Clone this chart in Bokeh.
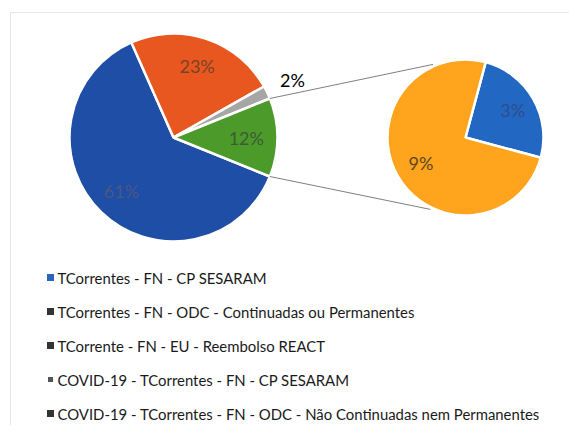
import numpy as np
from bokeh.plotting import figure
from bokeh.models import Range1d
from bokeh.core.properties import value
from bokeh.embed import file_html
from bokeh.resources import INLINE

# ---- data ----
main_labels = ["TCorrentes - FN - CP SESARAM",
               "TCorrentes - FN - ODC - Continuadas ou Permanentes",
               "TCorrente - FN - EU - Reembolso REACT",
               "Outros"]
main_values = [61, 23, 2, 12]
main_colors = ["#1f4ea6", "#e8571f", "#a6a6a6", "#4c9a2a"]
main_text_colors = ["#4a5884", "#7a4226", "#000000", "#3c5a36"]

sec_labels = ["COVID-19 - TCorrentes - FN - CP SESARAM",
              "COVID-19 - TCorrentes - FN - ODC - Não Continuadas nem Permanentes"]
sec_values = [3, 9]
sec_colors = ["#2268c2", "#ffa41c"]
sec_text_colors = ["#2e4c8c", "#5a4626"]

legend_labels = ["TCorrentes - FN - CP SESARAM",
                 "TCorrentes - FN - ODC - Continuadas ou Permanentes",
                 "TCorrente - FN - EU - Reembolso REACT",
                 "COVID-19 - TCorrentes - FN - CP SESARAM",
                 "COVID-19 - TCorrentes - FN - ODC - Não Continuadas nem Permanentes"]
legend_colors = ["#2a63c0", "#333333", "#333333", "#555555", "#333333"]

W, H = 569, 425
FONT = "Lato"
SH = 441  # screen height used to flip y

p = figure(width=W, height=H, output_backend="svg", toolbar_location=None,
           x_range=Range1d(0, W), y_range=Range1d(SH - H, SH),
           min_border=0, outline_line_color=None)
p.axis.visible = False
p.grid.visible = False
p.background_fill_color = "white"

# chart frame (faint)
p.quad(left=[10], right=[700], bottom=[-100], top=[SH - 12],
       fill_color=None, line_color="#e6e6e6", line_width=1)

# ---- main pie ----
cx, cy, R = 173, SH - 137, 104
vals = np.array(main_values, dtype=float)
fr = vals / vals.sum() * 2 * np.pi
other = fr[-1]
starts = np.zeros(len(fr)); ends = np.zeros(len(fr))
starts[-1] = -other / 2; ends[-1] = other / 2
a = other / 2
for i in range(len(fr) - 2, -1, -1):
    starts[i] = a
    ends[i] = a + fr[i]
    a += fr[i]

p.wedge(x=cx, y=cy, radius=R, start_angle=starts, end_angle=ends,
        fill_color=main_colors, line_color="white", line_width=2.5)

mids = (starts + ends) / 2
lr = np.array([0.72, 0.72, 1.27, 0.70]) * R
lx = cx + lr * np.cos(mids)
ly = cy + lr * np.sin(mids)
lab = [f"{v}%" for v in main_values]
p.text(x=lx, y=ly, text=lab, text_color=main_text_colors,
       text_font=value(FONT), text_font_size="18px",
       text_align="center", text_baseline="middle")

# ---- secondary pie ----
sx, sy, r = 465, SH - 137, 78
sv = np.array(sec_values, dtype=float)
sfr = sv / sv.sum() * 2 * np.pi
s_start0 = np.deg2rad(75)
s_ends = s_start0 - np.concatenate([[0], np.cumsum(sfr)[:-1]])
s_starts = s_ends - sfr
p.wedge(x=sx, y=sy, radius=r, start_angle=s_starts, end_angle=s_ends,
        fill_color=sec_colors, line_color="white", line_width=2.5)
smids = (s_starts + s_ends) / 2
slr = np.array([0.70, 0.66]) * r
p.text(x=sx + slr * np.cos(smids), y=sy + slr * np.sin(smids),
       text=[f"{v}%" for v in sec_values], text_color=sec_text_colors,
       text_font=value(FONT), text_font_size="18px",
       text_align="center", text_baseline="middle")

# ---- connector lines ----
a_top, a_bot = ends[-1], starts[-1]
b_top, b_bot = np.deg2rad(114), np.deg2rad(-116)
p.segment(x0=[cx + R * np.cos(a_top), cx + R * np.cos(a_bot)],
          y0=[cy + R * np.sin(a_top), cy + R * np.sin(a_bot)],
          x1=[sx + (r + 2) * np.cos(b_top), sx + (r + 2) * np.cos(b_bot)],
          y1=[sy + (r + 2) * np.sin(b_top), sy + (r + 2) * np.sin(b_bot)],
          line_color="#7f7f7f", line_width=1)

# ---- legend ----
n = len(legend_labels)
rows_y = SH - (277 + np.arange(n) * 34)
sizes = [7, 7, 7, 5, 7]
p.scatter(x=[50] * n, y=rows_y, marker="square", size=sizes,
          fill_color=legend_colors, line_color=None)
p.text(x=[57] * n, y=rows_y, text=legend_labels, text_color="#1a1a1a",
       text_font=value(FONT), text_font_size="14.9px",
       text_align="left", text_baseline="middle")

open("out.html", "w").write(file_html(p, INLINE))
